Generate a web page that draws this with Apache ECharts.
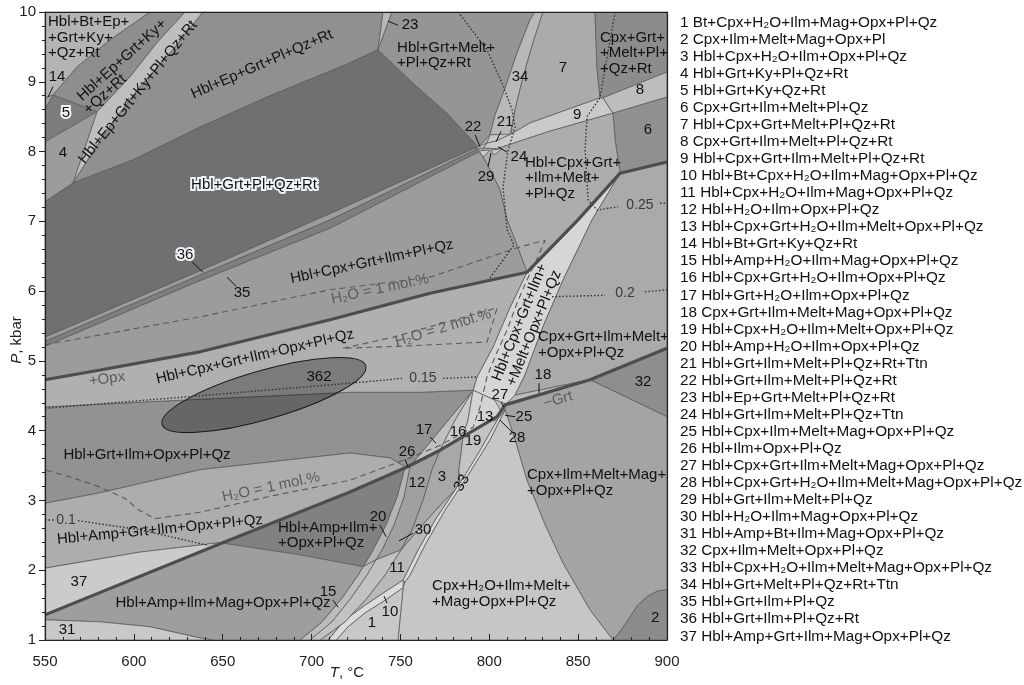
<!DOCTYPE html>
<html>
<head>
<meta charset="utf-8">
<script src="https://cdn.jsdelivr.net/npm/echarts/dist/echarts.min.js"></script>
<style>
  html, body { margin: 0; padding: 0; background: #fff; }
  #c { width: 1024px; height: 685px; }
</style>
</head>
<body>
<div id="c"></div>
<script>
const FONT = "'Liberation Sans', Arial, Helvetica, sans-serif";

// ---- phase fields, vertices as [T in °C, P in kbar] ----
const plotFrame = [[550,1],[900,1],[900,10],[550,10]];
const fTopLeft = [[550,10],[609.1,10],[586.6,9.60],[568.0,9.21],[554.5,8.81],[550,8.77]];
const f14 = [[550,8.77],[554.5,8.81],[550,8.60]];
const fEpKy = [[609.1,10],[628.8,10],[613.0,9.56],[597.8,9.07],[579.3,8.57],[554.5,8.81],[568.0,9.21],[586.6,9.60]];
const f5 = [[554.5,8.81],[579.3,8.57],[550,8.14],[550,8.60]];
const f4 = [[550,8.14],[579.3,8.57],[565.8,7.55],[550,7.28]];
const fKyPl = [[628.8,10],[638.9,10],[622.0,9.46],[603.5,8.93],[584.9,8.31],[565.8,7.55],[579.3,8.57],[597.8,9.07],[613.0,9.56]];
const fEpPl = [[638.9,10],[740.2,10],[737.4,9.46],[721.6,9.27],[674.9,8.78],[637.2,8.35],[599.5,7.88],[565.8,7.55],[584.9,8.31],[603.5,8.93],[622.0,9.46]];
const f23 = [[740.2,10],[745.3,10],[737.4,9.46]];
const fGrtPlRt = [[550,7.28],[565.8,7.55],[599.5,7.88],[637.2,8.35],[674.9,8.78],[721.6,9.27],[737.4,9.46],[757.1,8.98],[776.2,8.55],[793.7,8.07],[710.4,7.11],[637.2,6.29],[550,5.34]];
const f36 = [[550,5.34],[637.2,6.29],[710.4,7.11],[793.7,8.07],[793.7,8.04],[710.4,7.02],[637.2,6.23],[550,5.28]];
const f35 = [[550,5.28],[637.2,6.23],[710.4,7.02],[793.7,8.04],[793.7,7.99],[710.4,6.90],[637.2,6.15],[550,5.21]];
const fGrtMelt = [[745.3,10],[825.7,10],[822.9,9.89],[815.6,9.41],[808.9,8.91],[803.2,8.52],[800.4,8.24],[793.7,8.07],[776.2,8.55],[757.1,8.98],[737.4,9.46]];
const f34 = [[825.7,10],[830.2,10],[824.6,9.56],[819.0,9.07],[814.5,8.60],[811.7,8.24],[800.4,8.24],[803.2,8.52],[808.9,8.91],[815.6,9.41],[822.9,9.89]];
const f21 = [[800.4,8.24],[812.2,8.25],[803.8,8.15],[798.7,8.12]];
const f7 = [[830.2,10],[859.5,10],[860.6,9.21],[862.3,8.77],[822.9,8.41],[812.2,8.25],[814.5,8.60],[819.0,9.07],[824.6,9.56]];
const f9 = [[798.7,8.12],[803.8,8.15],[812.2,8.25],[822.9,8.41],[862.3,8.77],[864.0,8.77],[869.6,8.55],[832.5,8.28],[804.4,8.04],[796.5,8.05]];
const fCpxGrtMeltRt = [[859.5,10],[900,10],[900,9.14],[864.0,8.77],[862.3,8.77],[860.6,9.21]];
const f8 = [[864.0,8.77],[900,9.14],[900,8.78],[869.6,8.55]];
const f6 = [[869.6,8.55],[900,8.78],[900,7.85],[873.6,7.69],[870.8,8.17]];
const fHbCpGrIlMe = [[796.5,8.05],[804.4,8.04],[832.5,8.28],[869.6,8.55],[870.8,8.17],[873.6,7.69],[849.9,7.02],[821.2,6.27],[814.5,6.73],[810.0,7.02],[806.0,7.45],[800.4,7.74],[795.9,7.95]];
const f22 = [[791.5,8.05],[798.7,8.12],[796.5,8.05]];
const f29 = [[794.3,8.01],[800.4,8.02],[796.5,7.92]];
const f24 = [[801.0,8.02],[807.2,8.04],[802.7,7.95]];
const fHbCpGrIlPl = [[550,5.21],[637.2,6.15],[710.4,6.90],[793.7,7.99],[795.9,7.95],[800.4,7.74],[806.0,7.45],[810.0,7.02],[814.5,6.73],[821.2,6.27],[766.7,5.97],[710.4,5.59],[637.2,5.13],[581.0,4.87],[550,4.73]];
const fStrip = [[873.6,7.69],[849.9,7.02],[821.2,6.27],[811.7,5.77],[802.1,5.20],[793.1,4.77],[790.9,4.58],[808.9,4.37],[814.5,4.51],[820.1,4.80],[830.2,5.49],[841.5,6.16],[857.8,7.02]];
const fCpGrIlMeOp = [[873.6,7.69],[900,7.85],[900,5.18],[856.7,4.73],[814.5,4.51],[820.1,4.80],[830.2,5.49],[841.5,6.16],[857.8,7.02]];
const f18 = [[814.5,4.51],[856.7,4.73],[808.9,4.37]];
const f32 = [[856.7,4.73],[900,5.18],[900,4.20]];
const fCpIlMeMag = [[808.9,4.37],[856.7,4.73],[900,4.20],[900,1.72],[894.5,1.70],[888.8,1.62],[883.5,1.50],[879.2,1.33],[874.5,1.15],[869.6,1.00],[856.7,1.43],[841.5,2.10],[831.4,2.65],[821.2,3.29],[814.5,3.87],[808.9,4.30]];
const f2 = [[869.6,1.00],[874.5,1.15],[879.2,1.33],[883.5,1.50],[888.8,1.62],[894.5,1.70],[900,1.72],[900,1.00]];
const fCpH2OMe = [[808.9,4.30],[814.5,3.87],[821.2,3.29],[831.4,2.65],[841.5,2.10],[856.7,1.43],[869.6,1.00],[748.6,1.00],[751.5,1.75],[752.6,1.83],[755.4,1.93],[763.8,2.36],[775.1,2.86],[788.0,3.36],[800.4,3.87]];
const f33 = [[804.4,4.15],[794.8,3.72],[783.5,3.25],[780.7,3.15],[769.5,2.72],[759.9,2.29],[751.5,1.86],[752.6,1.83],[755.4,1.93],[763.8,2.36],[775.1,2.86],[788.0,3.36],[800.4,3.87],[808.9,4.30]];
const f1 = [[751.5,1.75],[741.3,1.57],[730.1,1.39],[720.5,1.19],[713.8,1.00],[748.6,1.00]];
const f10 = [[751.5,1.86],[741.3,1.69],[730.1,1.50],[718.8,1.29],[709.3,1.00],[713.8,1.00],[720.5,1.19],[730.1,1.39],[741.3,1.57],[751.5,1.75]];
const f11 = [[750.3,2.29],[761.0,2.61],[772.3,2.93],[780.7,3.15],[769.5,2.72],[759.9,2.29],[751.5,1.86],[741.3,1.69],[730.1,1.50],[718.8,1.29],[709.3,1.00],[704.8,1.00],[718.8,1.26],[731.2,1.60],[741.3,1.93]];
const f12 = [[755.4,3.49],[772.3,3.72],[767.8,3.44],[763.3,3.05],[757.1,2.61],[750.3,2.29],[736.3,2.15],[739.6,2.29],[746.4,2.65],[752.0,3.05]];
const f20 = [[752.6,3.48],[755.4,3.49],[752.0,3.05],[746.4,2.65],[739.6,2.29],[736.3,2.15],[729.0,2.05],[734.6,2.29],[741.9,2.65],[748.1,3.05]];
const f15 = [[729.0,2.05],[736.3,2.15],[731.2,1.93],[722.2,1.60],[711.5,1.26],[699.1,1.00],[693.5,1.00],[705.9,1.26],[717.1,1.60],[726.1,1.93]];
const f30 = [[736.3,2.15],[750.3,2.29],[741.3,1.93],[731.2,1.60],[718.8,1.26],[704.8,1.00],[699.1,1.00],[711.5,1.26],[722.2,1.60],[731.2,1.93]];
const f3 = [[772.3,3.72],[785.2,3.91],[784.0,3.65],[782.9,3.44],[782.4,3.22],[780.7,3.15],[772.3,2.93],[761.0,2.61],[750.3,2.29],[757.1,2.61],[763.3,3.05],[767.8,3.44]];
const f19 = [[785.2,3.91],[800.4,4.14],[804.4,4.15],[794.8,3.72],[789.1,3.48],[783.5,3.25],[782.9,3.44],[784.0,3.65]];
const f17 = [[755.4,3.49],[790.9,4.58],[780.7,4.15],[772.3,3.72]];
const f16 = [[772.3,3.72],[780.7,4.15],[790.9,4.58],[788.0,4.15],[785.2,3.91]];
const f13 = [[790.9,4.58],[808.9,4.37],[804.4,4.20],[785.2,3.91],[788.0,4.15]];
const f27 = [[802.7,4.45],[810.0,4.38],[806.6,4.28]];
const fHbGrIlOp = [[550,4.34],[637.2,4.45],[721.6,4.55],[761.0,4.55],[790.9,4.58],[755.4,3.49],[752.6,3.48],[744.1,3.61],[721.6,3.68],[637.2,3.44],[581.0,3.11],[550,2.96]];
const fHbCpGrIlOp = [[550,4.73],[581.0,4.87],[637.2,5.13],[710.4,5.59],[766.7,5.97],[821.2,6.27],[811.7,5.77],[802.1,5.20],[793.1,4.77],[790.9,4.58],[761.0,4.55],[721.6,4.55],[637.2,4.45],[550,4.34]];
const fHbAmGrIlOp = [[550,2.96],[581.0,3.11],[637.2,3.44],[721.6,3.68],[744.1,3.61],[752.6,3.48],[721.6,3.12],[649.6,2.39],[646.8,2.39],[603.5,2.26],[550,2.03]];
const f37 = [[550,2.03],[603.5,2.26],[646.8,2.39],[649.6,2.39],[550,1.36]];
const fHbAmIlOp = [[649.6,2.39],[721.6,3.12],[752.6,3.48],[748.1,3.05],[741.9,2.65],[734.6,2.29],[729.0,2.05],[693.5,2.22]];
const fHbAmIlMag = [[550,1.36],[649.6,2.39],[693.5,2.22],[729.0,2.05],[726.1,1.93],[717.1,1.60],[705.9,1.26],[693.5,1.00],[644.5,1.00],[637.2,1.03],[609.1,1.19],[581.0,1.26],[550,1.29]];
const f31 = [[550,1.29],[581.0,1.26],[609.1,1.19],[637.2,1.03],[644.5,1.00],[550,1.00]];

// sample outline "362": centre [T, P], half-length along its axis (°C), half-width (kbar), tilt (deg)
const sample362 = { centre: [673.2, 4.51], halfT: 59.6, halfP: 0.35, tilt: 16 };

// ---- reaction lines and isopleths ----
const opxLine = [[550,4.73],[581.0,4.87],[637.2,5.13],[710.4,5.59],[766.7,5.97],[821.2,6.27],[849.9,7.02],[873.6,7.69],[900,7.85]];
const grtLine = [[550,1.36],[649.6,2.39],[721.6,3.12],[753.7,3.48],[772.3,3.72],[804.4,4.20],[808.9,4.37],[856.7,4.73],[900,5.18]];
const h2o1 = [[550,5.23],[637.2,5.63],[710.4,6.02],[766.7,6.20],[815.6,6.62],[831.4,6.73],[827.4,6.49],[821.2,6.16],[815.6,5.83],[810.0,5.44],[803.2,5.06],[798.7,4.77],[794.8,4.34],[790.9,4.05],[772.3,3.79],[755.4,3.61],[721.6,3.29],[674.9,3.05],[637.2,2.83],[612.0,2.74],[603.0,2.86],[595.0,3.03],[581.0,3.19],[565.0,3.33],[550,3.44]];
const h2o2 = [[717.7,5.18],[745.8,5.34],[772.3,5.53],[804.4,5.76],[798.7,5.27],[749.8,5.21],[717.7,5.18]];
const iso010a = [[550,2.72],[555.6,2.72]];
const iso010b = [[568.6,2.71],[603.5,2.58],[641.2,2.36]];
const iso015a = [[550,4.32],[637.2,4.50],[721.6,4.68],[750.9,4.75]];
const iso015b = [[774.0,4.75],[793.1,4.77]];
const iso020a = [[782.4,10],[798.7,9.46],[807.7,8.95],[812.8,8.60],[814.5,8.35],[810.6,8.02],[807.7,7.49],[810.0,6.88],[813.9,6.66],[798.7,6.13]];
const iso020b = [[835.3,5.92],[865.1,5.94]];
const iso020c = [[887.6,5.99],[900,6.02]];
const iso025a = [[870.8,10],[862.3,8.77],[855.0,8.50],[853.9,8.02],[855.6,7.31],[860.6,7.16],[872.5,7.21]];
const iso025b = [[896.1,7.26],[900,7.26]];

// ---- label leaders [T1, P1, T2, P2] ----
const leaders = [
  [554.5,8.93,551.7,8.78], [743.0,9.87,748.6,9.81], [792.0,8.24,794.8,8.07],
  [806.6,8.29,803.8,8.14], [810.0,7.99,804.9,8.07], [799.3,7.78,801.0,7.98],
  [632.7,6.42,638.9,6.27], [652.4,6.20,657.5,6.07], [828.0,4.68,828.0,4.54],
  [712.1,1.57,714.9,1.47], [738.5,2.65,741.9,2.48], [752.6,3.59,754.3,3.48],
  [757.1,2.53,749.2,2.42], [742.4,1.53,740.8,1.63], [766.7,3.91,770.0,3.82],
  [806.6,4.41,808.3,4.34], [808.9,4.22,814.5,4.20], [806.0,4.15,812.8,3.98]
];

// ---- field labels [text, T, P] ----
const fieldLabels = [
  ['Hbl+Bt+Ep+\n+Grt+Ky+\n+Qz+Rt', 551.7, 9.63],
  ['Hbl+Ep+Grt+Ky+', 593.3, 9.31],
  ['+Qz+Rt', 583.8, 8.82],
  ['Hbl+Ep+Grt+Ky+Pl+Qz+Rt', 602.3, 8.85],
  ['Hbl+Ep+Grt+Pl+Qz+Rt', 672.1, 9.25],
  ['Hbl+Grt+Pl+Qz+Rt', 667.6, 7.52],
  ['5', 561.8, 8.55], ['4', 560.1, 7.98], ['14', 556.8, 9.07],
  ['Hbl+Grt+Melt+\n+Pl+Qz+Rt', 748.1, 9.38],
  ['23', 755.4, 9.81], ['34', 817.3, 9.07], ['7', 841.5, 9.20],
  ['Cpx+Grt+\n+Melt+Pl+\n+Qz+Rt', 862.3, 9.41],
  ['8', 884.8, 8.88], ['9', 849.4, 8.52], ['6', 889.3, 8.31],
  ['22', 790.9, 8.35], ['21', 808.9, 8.42], ['24', 816.7, 7.92], ['29', 798.2, 7.64],
  ['Hbl+Cpx+Grt+\n+Ilm+Melt+\n+Pl+Qz', 820.1, 7.62],
  ['36', 628.8, 6.52], ['35', 660.9, 5.97],
  ['Hbl+Cpx+Grt+Ilm+Pl+Qz', 734.0, 6.42],
  ['Hbl+Cpx+Grt+Ilm+Opx+Pl+Qz', 668.2, 5.06],
  ['Hbl+Cpx+Grt+Ilm+\n+Melt+Opx+Pl+Qz', 821.2, 5.51],
  ['Cpx+Grt+Ilm+Melt+\n+Opx+Pl+Qz', 827.4, 5.23],
  ['18', 830.2, 4.80], ['32', 886.5, 4.70], ['362', 704.2, 4.77],
  ['Hbl+Grt+Ilm+Opx+Pl+Qz', 607.4, 3.65],
  ['Hbl+Amp+Grt+Ilm+Opx+Pl+Qz', 614.7, 2.58],
  ['37', 569.1, 1.83], ['31', 562.4, 1.14],
  ['Hbl+Amp+Ilm+Mag+Opx+Pl+Qz', 650.2, 1.53],
  ['15', 709.3, 1.69],
  ['Hbl+Amp+Ilm+\n+Opx+Pl+Qz', 681.1, 2.50],
  ['20', 737.4, 2.76], ['26', 753.7, 3.69], ['12', 759.3, 3.25], ['3', 773.4, 3.34],
  ['33', 784.6, 3.25], ['30', 762.7, 2.58], ['11', 748.1, 2.03], ['10', 744.1, 1.40],
  ['1', 734.0, 1.25],
  ['Cpx+H₂O+Ilm+Melt+\n+Mag+Opx+Pl+Qz', 767.8, 1.66],
  ['Cpx+Ilm+Melt+Mag+\n+Opx+Pl+Qz', 821.2, 3.25],
  ['2', 893.3, 1.32],
  ['17', 763.3, 4.01], ['16', 782.4, 3.98], ['19', 790.9, 3.85], ['13', 797.6, 4.20],
  ['27', 806.0, 4.51], ['25', 819.5, 4.20], ['28', 815.6, 3.90]
];
const noteLabels = [
  ['H₂O = 1 mol.%', 738.5, 6.03],
  ['H₂O = 2 mol.%', 774.0, 5.47],
  ['H₂O = 1 mol.%', 677.2, 3.19],
  ['+Opx', 584.9, 4.74],
  ['−Grt', 838.7, 4.44]
];
const isoLabels = [['0.1', 561.8, 2.72], ['0.15', 762.7, 4.75], ['0.2', 876.4, 5.97], ['0.25', 884.8, 7.23]];

const legendItems = [
  '1 Bt+Cpx+H₂O+Ilm+Mag+Opx+Pl+Qz', '2 Cpx+Ilm+Melt+Mag+Opx+Pl', '3 Hbl+Cpx+H₂O+Ilm+Opx+Pl+Qz',
  '4 Hbl+Grt+Ky+Pl+Qz+Rt', '5 Hbl+Grt+Ky+Qz+Rt', '6 Cpx+Grt+Ilm+Melt+Pl+Qz',
  '7 Hbl+Cpx+Grt+Melt+Pl+Qz+Rt', '8 Cpx+Grt+Ilm+Melt+Pl+Qz+Rt', '9 Hbl+Cpx+Grt+Ilm+Melt+Pl+Qz+Rt',
  '10 Hbl+Bt+Cpx+H₂O+Ilm+Mag+Opx+Pl+Qz', '11 Hbl+Cpx+H₂O+Ilm+Mag+Opx+Pl+Qz', '12 Hbl+H₂O+Ilm+Opx+Pl+Qz',
  '13 Hbl+Cpx+Grt+H₂O+Ilm+Melt+Opx+Pl+Qz', '14 Hbl+Bt+Grt+Ky+Qz+Rt', '15 Hbl+Amp+H₂O+Ilm+Mag+Opx+Pl+Qz',
  '16 Hbl+Cpx+Grt+H₂O+Ilm+Opx+Pl+Qz', '17 Hbl+Grt+H₂O+Ilm+Opx+Pl+Qz', '18 Cpx+Grt+Ilm+Melt+Mag+Opx+Pl+Qz',
  '19 Hbl+Cpx+H₂O+Ilm+Melt+Opx+Pl+Qz', '20 Hbl+Amp+H₂O+Ilm+Opx+Pl+Qz', '21 Hbl+Grt+Ilm+Melt+Pl+Qz+Rt+Ttn',
  '22 Hbl+Grt+Ilm+Melt+Pl+Qz+Rt', '23 Hbl+Ep+Grt+Melt+Pl+Qz+Rt', '24 Hbl+Grt+Ilm+Melt+Pl+Qz+Ttn',
  '25 Hbl+Cpx+Ilm+Melt+Mag+Opx+Pl+Qz', '26 Hbl+Ilm+Opx+Pl+Qz', '27 Hbl+Cpx+Grt+Ilm+Melt+Mag+Opx+Pl+Qz',
  '28 Hbl+Cpx+Grt+H₂O+Ilm+Melt+Mag+Opx+Pl+Qz', '29 Hbl+Grt+Ilm+Melt+Pl+Qz', '30 Hbl+H₂O+Ilm+Mag+Opx+Pl+Qz',
  '31 Hbl+Amp+Bt+Ilm+Mag+Opx+Pl+Qz', '32 Cpx+Ilm+Melt+Opx+Pl+Qz', '33 Hbl+Cpx+H₂O+Ilm+Melt+Mag+Opx+Pl+Qz',
  '34 Hbl+Grt+Melt+Pl+Qz+Rt+Ttn', '35 Hbl+Grt+Ilm+Pl+Qz', '36 Hbl+Grt+Ilm+Pl+Qz+Rt',
  '37 Hbl+Amp+Grt+Ilm+Mag+Opx+Pl+Qz'
];

// ---- drawing order and grey shades of the fields ----
const fills = [
  [plotFrame, '#a8a8a8', true],
  [fTopLeft, '#b4b4b4'], [f14, '#a2a2a2'], [fEpKy, '#8e8e8e'], [f5, '#7c7c7c'], [f4, '#9c9c9c'],
  [fKyPl, '#bebebe'], [fEpPl, '#909090'], [f23, '#b8b8b8'], [fGrtPlRt, '#707070'],
  [f36, '#9c9c9c'], [f35, '#7e7e7e'], [fGrtMelt, '#959595'], [f34, '#b9b9b9'], [f7, '#ababab'],
  [f21, '#c8c8c8'], [f9, '#cacaca'], [fCpxGrtMeltRt, '#8c8c8c'], [f8, '#bdbdbd'], [f6, '#909090'],
  [fHbCpGrIlMe, '#adadad'], [f22, '#c8c8c8'], [f29, '#c8c8c8'], [f24, '#c8c8c8'],
  [fHbCpGrIlPl, '#9c9c9c'], [fStrip, '#d6d6d6'], [fCpGrIlMeOp, '#aaaaaa'], [f18, '#bcbcbc'],
  [f32, '#8e8e8e'], [fCpIlMeMag, '#a4a4a4'], [f2, '#8c8c8c'], [fCpH2OMe, '#c6c6c6'],
  [f33, '#dadada'], [f1, '#c8c8c8'], [f10, '#dcdcdc'], [f11, '#b9b9b9'], [f12, '#a0a0a0'],
  [f20, '#b4b4b4'], [f15, '#bcbcbc'], [f30, '#c2c2c2'], [f3, '#a8a8a8'], [f19, '#c4c4c4'],
  [f17, '#c0c0c0'], [f16, '#cacaca'], [f13, '#d4d4d4'], [f27, '#c0c0c0'],
  [fHbGrIlOp, '#929292'], [fHbCpGrIlOp, '#b0b0b0'], [fHbAmGrIlOp, '#adadad'], [f37, '#cbcbcb'],
  [fHbAmIlOp, '#818181'], [fHbAmIlMag, '#9e9e9e'], [f31, '#c8c8c8']
];

const labelTurn = {
  'Hbl+Ep+Grt+Ky+': 42, '+Qz+Rt': 42, 'Hbl+Ep+Grt+Ky+Pl+Qz+Rt': 51, 'Hbl+Ep+Grt+Pl+Qz+Rt': 23.5,
  'Hbl+Cpx+Grt+Ilm+Pl+Qz': 12, 'Hbl+Cpx+Grt+Ilm+Opx+Pl+Qz': 13, 'Hbl+Cpx+Grt+Ilm+\n+Melt+Opx+Pl+Qz': 68,
  'Hbl+Amp+Grt+Ilm+Opx+Pl+Qz': 5.5, '33': 60,
  'H₂O = 1 mol.%': 12, 'H₂O = 2 mol.%': 17, '+Opx': 8, '−Grt': 16
};
const leftAligned = new Set([
  'Hbl+Bt+Ep+\n+Grt+Ky+\n+Qz+Rt', 'Hbl+Grt+Melt+\n+Pl+Qz+Rt', 'Cpx+Grt+\n+Melt+Pl+\n+Qz+Rt',
  'Hbl+Cpx+Grt+\n+Ilm+Melt+\n+Pl+Qz', 'Cpx+Grt+Ilm+Melt+\n+Opx+Pl+Qz', 'Hbl+Amp+Ilm+\n+Opx+Pl+Qz',
  'Cpx+H₂O+Ilm+Melt+\n+Mag+Opx+Pl+Qz', 'Cpx+Ilm+Melt+Mag+\n+Opx+Pl+Qz'
]);
const haloed = new Set(['Hbl+Grt+Pl+Qz+Rt', '5', '36']);

function textItem(api, lab, color, size) {
  const p = api.coord([lab[1], lab[2]]);
  const rot = (labelTurn[lab[0]] || 0) * Math.PI / 180;
  const multi = lab[0].indexOf('\n') >= 0;
  const base = {
    text: lab[0], font: size + 'px ' + FONT,
    align: leftAligned.has(lab[0]) ? 'left' : 'center', verticalAlign: 'middle',
    lineHeight: multi ? 15.5 : size + 2
  };
  const kids = [];
  if (haloed.has(lab[0])) {
    kids.push({ type: 'text', x: p[0], y: p[1], rotation: rot,
      style: Object.assign({}, base, { fill: '#ffffff', stroke: '#eef4fb', lineWidth: 4 }) });
  }
  kids.push({ type: 'text', x: p[0], y: p[1], rotation: rot, style: Object.assign({}, base, { fill: color }) });
  return { type: 'group', children: kids };
}

function labelSeries(list, color, size) {
  return {
    type: 'custom', coordinateSystem: 'cartesian2d', silent: true, z: 20,
    data: list.map((l, i) => [l[1], l[2], i]), encode: { x: 0, y: 1 },
    renderItem: (params, api) => textItem(api, list[api.value(2)], color, size)
  };
}

function lineSeries(data, color, width, type, z) {
  return {
    type: 'line', data: data, symbol: 'none', showSymbol: false, silent: true, z: z,
    lineStyle: { color: color, width: width, type: type }, animation: false
  };
}

const series = [
  {
    type: 'custom', coordinateSystem: 'cartesian2d', silent: true, z: 2,
    data: fills.map((f, i) => [550, 1, i]), encode: { x: 0, y: 1 },
    renderItem: (params, api) => {
      const f = fills[api.value(2)];
      return {
        type: 'polygon',
        shape: { points: f[0].map(p => api.coord(p)) },
        style: { fill: f[1], stroke: f[2] ? null : '#5e5e5e', lineWidth: 0.8, lineJoin: 'round' }
      };
    }
  },
  {
    type: 'custom', coordinateSystem: 'cartesian2d', silent: true, z: 6,
    data: [[sample362.centre[0], sample362.centre[1]]], encode: { x: 0, y: 1 },
    renderItem: (params, api) => {
      const c = api.coord(sample362.centre);
      const rx = api.size([sample362.halfT, 0])[0];
      const ry = api.size([0, sample362.halfP])[1];
      return {
        type: 'ellipse', x: c[0], y: c[1], rotation: sample362.tilt * Math.PI / 180,
        shape: { cx: 0, cy: 0, rx: rx, ry: ry },
        style: { fill: 'rgba(0,0,0,0.3)', stroke: '#1a1a1a', lineWidth: 1 }
      };
    }
  },
  lineSeries(h2o1, '#5a5a5a', 1.1, [6, 4], 8),
  lineSeries(h2o2, '#5a5a5a', 1.1, [6, 4], 8),
  lineSeries(iso010a, '#333', 1.4, [1.5, 2], 8),
  lineSeries(iso010b, '#333', 1.4, [1.5, 2], 8),
  lineSeries(iso015a, '#333', 1.4, [1.5, 2], 8),
  lineSeries(iso015b, '#333', 1.4, [1.5, 2], 8),
  lineSeries(iso020a, '#333', 1.4, [1.5, 2], 8),
  lineSeries(iso020b, '#333', 1.4, [1.5, 2], 8),
  lineSeries(iso020c, '#333', 1.4, [1.5, 2], 8),
  lineSeries(iso025a, '#333', 1.4, [1.5, 2], 8),
  lineSeries(iso025b, '#333', 1.4, [1.5, 2], 8),
  lineSeries(opxLine, '#4d4d4d', 3.2, 'solid', 10),
  lineSeries(grtLine, '#4d4d4d', 3.2, 'solid', 10),
  {
    type: 'custom', coordinateSystem: 'cartesian2d', silent: true, z: 12,
    data: leaders.map((l, i) => [l[0], l[1], i]), encode: { x: 0, y: 1 },
    renderItem: (params, api) => {
      const l = leaders[api.value(2)];
      const a = api.coord([l[0], l[1]]), b = api.coord([l[2], l[3]]);
      return { type: 'line', shape: { x1: a[0], y1: a[1], x2: b[0], y2: b[1] },
        style: { stroke: '#111', lineWidth: 1 } };
    }
  },
  labelSeries(fieldLabels, '#111', 15),
  labelSeries(noteLabels, '#5c5c5c', 15),
  labelSeries(isoLabels, '#3a3a3a', 14)
];

const axisCommon = {
  type: 'value', z: 30,
  axisLine: { show: true, onZero: false, lineStyle: { color: '#222', width: 1.2 } },
  splitLine: { show: false },
  axisLabel: { color: '#222', fontSize: 15, fontFamily: FONT }
};

const option = {
  animation: false,
  grid: { left: 45, right: 357, top: 12, bottom: 45, containLabel: false },
  xAxis: [
    Object.assign({}, axisCommon, {
      min: 550, max: 900, interval: 50, position: 'bottom',
      axisTick: { show: true, inside: true, length: 6, lineStyle: { color: '#222' } },
      minorTick: { show: true, splitNumber: 5, length: 3, lineStyle: { color: '#222' } },
      axisLabel: Object.assign({}, axisCommon.axisLabel, { margin: 14 })
    }),
    Object.assign({}, axisCommon, {
      min: 550, max: 900, position: 'top', axisTick: { show: false }, axisLabel: { show: false }
    })
  ],
  yAxis: [
    Object.assign({}, axisCommon, {
      min: 1, max: 10, interval: 1, position: 'left',
      axisTick: { show: true, inside: false, length: 6, lineStyle: { color: '#222' } },
      minorTick: { show: true, splitNumber: 5, length: 3, lineStyle: { color: '#222' } },
      axisLabel: Object.assign({}, axisCommon.axisLabel, { margin: 9 })
    }),
    Object.assign({}, axisCommon, {
      min: 1, max: 10, position: 'right', axisTick: { show: false }, axisLabel: { show: false }
    })
  ],
  graphic: [
    { type: 'text', x: 347, y: 673, z: 50,
      style: { text: '{i|T}, °C', align: 'center', verticalAlign: 'middle', font: '15px ' + FONT, fill: '#222',
        rich: { i: { fontStyle: 'italic', fontSize: 15, fontFamily: FONT } } } },
    { type: 'text', x: 17, y: 340, rotation: Math.PI / 2, z: 50,
      style: { text: '{i|P}, kbar', align: 'center', verticalAlign: 'middle', font: '15px ' + FONT, fill: '#222',
        rich: { i: { fontStyle: 'italic', fontSize: 15, fontFamily: FONT } } } }
  ].concat(legendItems.map((t, i) => ({
    type: 'text', x: 680, y: 22.5 + i * 17.05, z: 50,
    style: { text: t, align: 'left', verticalAlign: 'middle', font: '15.3px ' + FONT, fill: '#111' }
  }))),
  series: series
};

const chart = echarts.init(document.getElementById('c'), null, { renderer: 'canvas' });
chart.setOption(option);
</script>
</body>
</html>
